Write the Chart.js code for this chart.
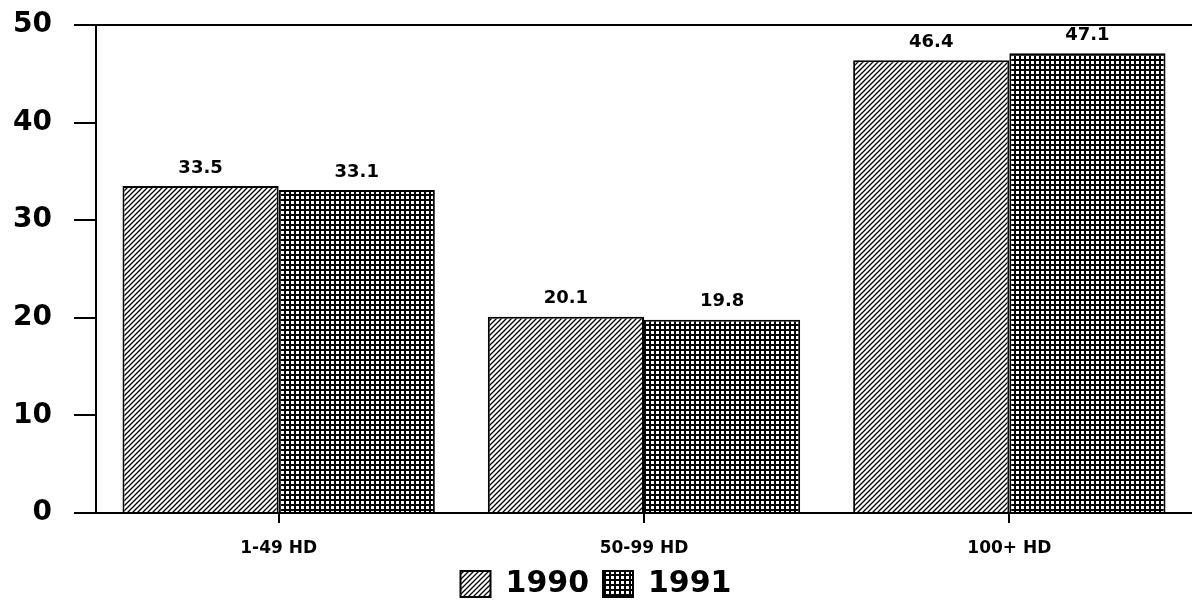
<!DOCTYPE html>
<html>
<head>
<meta charset="utf-8">
<script src="https://cdn.jsdelivr.net/npm/chart.js@4.4.1/dist/chart.umd.min.js"></script>
<style>
  html, body { margin: 0; padding: 0; background: #fff; }
  #wrap { width: 1192px; height: 615px; }
</style>
</head>
<body>
<div id="wrap"><canvas id="chart" width="1192" height="615"></canvas></div>
<script>
const categories = ['1-49 HD', '50-99 HD', '100+ HD'];
const seriesNames = ['1990', '1991'];
const values1990 = [33.5, 20.1, 46.4];
const values1991 = [33.1, 19.8, 47.1];
const yTicks = [0, 10, 20, 30, 40, 50];

const FONT = "'DejaVu Sans', 'Liberation Sans', Arial, sans-serif";

// hatch for 1990: thin "/" stripes
function diagonalPattern() {
    const s = 5;
    const c = document.createElement('canvas');
    c.width = s; c.height = s;
    const g = c.getContext('2d');
    g.fillStyle = '#fff';
    g.fillRect(0, 0, s, s);
    g.strokeStyle = '#000';
    g.lineWidth = 1.3;
    g.beginPath();
    g.moveTo(0, s); g.lineTo(s, 0);
    g.moveTo(-1, 1); g.lineTo(1, -1);
    g.moveTo(s - 1, s + 1); g.lineTo(s + 1, s - 1);
    g.stroke();
    return g.createPattern(c, 'repeat');
}

// dense grid for 1991
function gridPattern() {
    const c = document.createElement('canvas');
    c.width = 5; c.height = 5;
    const g = c.getContext('2d');
    g.fillStyle = '#000';
    g.fillRect(0, 0, 5, 5);
    g.fillStyle = '#fff';
    g.fillRect(1, 1, 3, 3);
    return g.createPattern(c, 'repeat');
}

const hatch = diagonalPattern();
const grid = gridPattern();

const valueLabels = {
    id: 'valueLabels',
    afterDatasetsDraw(chart) {
        const ctx = chart.ctx;
        ctx.save();
        ctx.font = 'bold 18px ' + FONT;
        ctx.fillStyle = '#000';
        ctx.textAlign = 'center';
        ctx.textBaseline = 'bottom';
        chart.data.datasets.forEach((ds, i) => {
            chart.getDatasetMeta(i).data.forEach((bar, j) => {
                ctx.fillText(ds.data[j].toFixed(1), bar.x, bar.y - 9);
            });
        });
        ctx.restore();
    }
};

new Chart(document.getElementById('chart'), {
    type: 'bar',
    data: {
        labels: categories,
        datasets: [
            {
                label: seriesNames[0],
                data: values1990,
                backgroundColor: hatch,
                borderColor: '#000',
                borderWidth: 2,
                borderSkipped: 'bottom'
            },
            {
                label: seriesNames[1],
                data: values1991,
                backgroundColor: grid,
                borderColor: '#000',
                borderWidth: 2,
                borderSkipped: 'bottom'
            }
        ]
    },
    options: {
        responsive: false,
        animation: false,
        layout: { padding: { top: 25, right: 0, left: 0, bottom: 6 } },
        datasets: {
            bar: { categoryPercentage: 0.855, barPercentage: 1.0 }
        },
        scales: {
            x: {
                grid: {
                    display: true,
                    offset: false,
                    drawOnChartArea: false,
                    tickLength: 10,
                    tickColor: '#000',
                    lineWidth: 2
                },
                border: { display: true, color: '#000', width: 2 },
                ticks: {
                    color: '#000',
                    padding: 15,
                    font: { family: FONT, size: 17, weight: 'bold' }
                },
                afterFit(scale) { scale.height = 42; }
            },
            y: {
                min: 0,
                max: 50,
                afterBuildTicks(scale) {
                    scale.ticks = yTicks.map(v => ({ value: v }));
                },
                grid: {
                    color: (c) => (c.tick && (c.tick.value === 50 || c.tick.value === 0)) ? '#000' : 'rgba(0,0,0,0)',
                    tickColor: '#000',
                    tickLength: 22,
                    lineWidth: 2
                },
                border: { display: true, color: '#000', width: 2 },
                ticks: {
                    color: '#000',
                    padding: 22,
                    font: { family: FONT, size: 28, weight: 'bold' }
                },
                afterFit(scale) {
                    scale.width = 96;
                    scale.paddingTop = 0;
                    scale.paddingBottom = 0;
                }
            }
        },
        plugins: {
            legend: {
                position: 'bottom',
                labels: {
                    color: '#000',
                    boxWidth: 30,
                    boxHeight: 26,
                    padding: 14,
                    font: { family: FONT, size: 30, weight: 'bold' }
                }
            },
            tooltip: { enabled: false }
        }
    },
    plugins: [valueLabels]
});
</script>
</body>
</html>
